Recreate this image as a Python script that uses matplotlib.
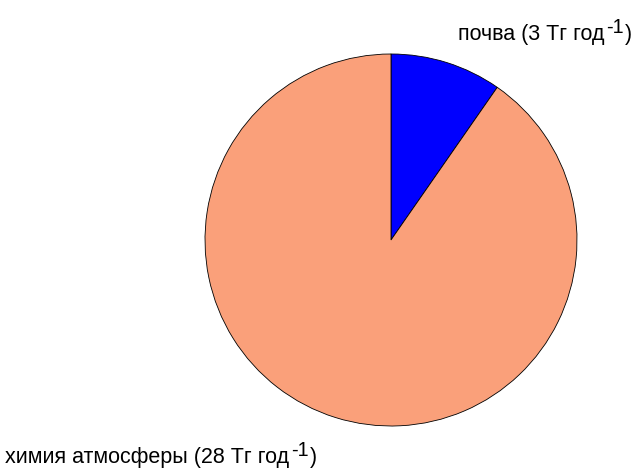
import matplotlib.pyplot as plt
from matplotlib.transforms import offset_copy

# sources, Tg per year
names = ["почва", "химия атмосферы"]
values = [3, 28]
colors = ["#0000FF", "#FAA07A"]

plt.rcParams['font.family'] = ['Liberation Sans', 'DejaVu Sans']

W, H = 637, 468
cx, cy, r = 391, 240, 186
fig = plt.figure(figsize=(W / 100, H / 100), dpi=100)
ax = fig.add_axes([(cx - r) / W, (H - cy - r) / H, 2 * r / W, 2 * r / H])

ax.pie(values, colors=colors, startangle=90, counterclock=False,
       wedgeprops=dict(edgecolor="black", linewidth=0.6))
ax.set_xlim(-1, 1)
ax.set_ylim(-1, 1)
ax.set_aspect("equal")
ax.axis("off")

renderer = fig.canvas.get_renderer()


def label(x, y, name, val, fs=15.5):
    # main text, then a raised "-1" and the closing paren (MATLAB style)
    t = ax.text(x, y, f"{name} ({val} Тг год", fontsize=fs, ha="left",
                va="baseline", clip_on=False)
    x1 = t.get_window_extent(renderer).x1
    dx = (x1 - ax.transData.transform((x, y))[0]) * 72 / fig.dpi
    tr = offset_copy(ax.transData, fig=fig, x=dx + 1.5, y=5, units="points")
    s = ax.text(x, y, "-1", fontsize=fs * 0.92, ha="left", va="baseline",
                transform=tr, clip_on=False)
    x2 = s.get_window_extent(renderer).x1
    dx2 = (x2 - ax.transData.transform((x, y))[0]) * 72 / fig.dpi
    tr2 = offset_copy(ax.transData, fig=fig, x=dx2 + 0.8, y=0, units="points")
    ax.text(x, y, ")", fontsize=fs, ha="left", va="baseline",
            transform=tr2, clip_on=False)


label(0.36, 1.073, names[0], values[0])
label(-2.075, -1.2, names[1], values[1])

fig.savefig("out.png", dpi=100)
